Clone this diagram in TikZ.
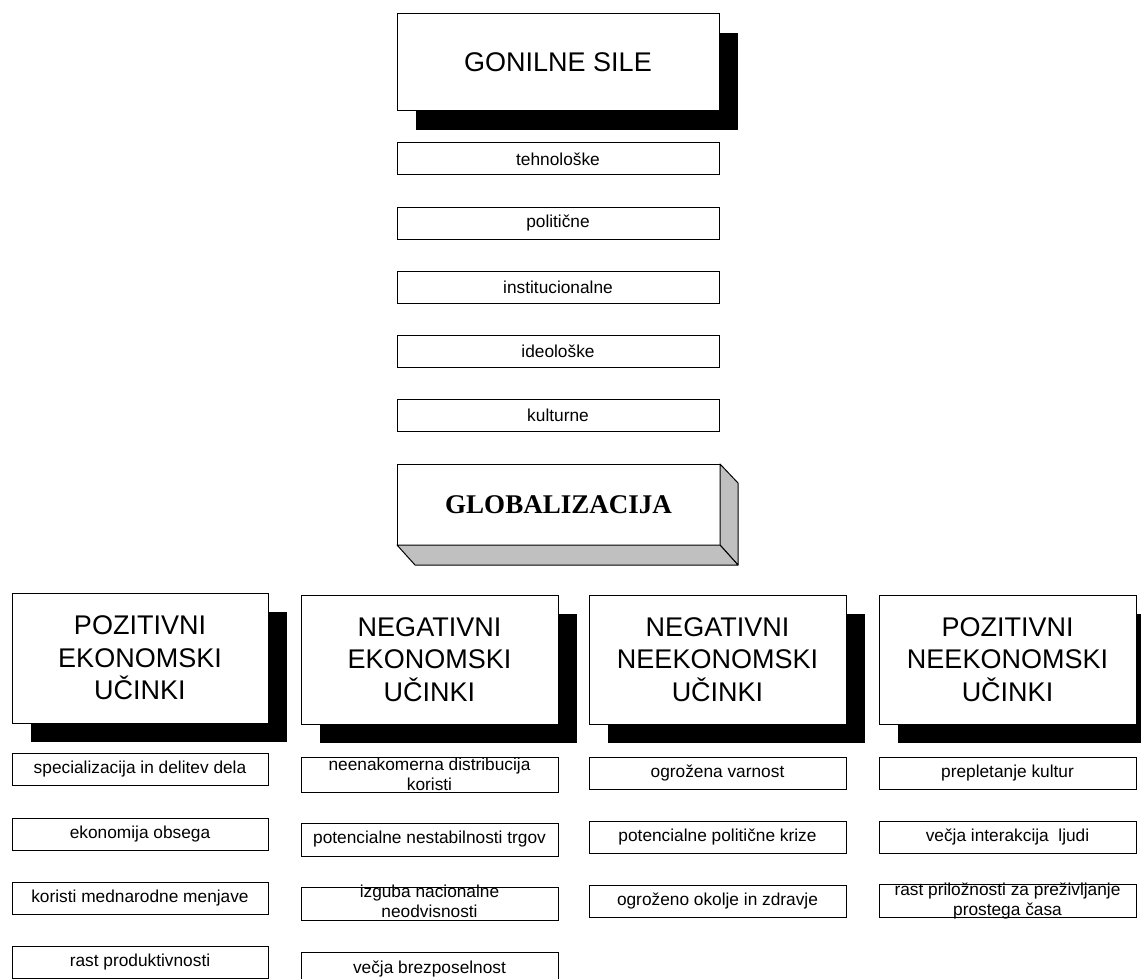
\documentclass[tikz,border=0pt]{standalone}
\usepackage{fontspec}
\setmainfont{Liberation Sans}
\newfontfamily\serifb{Liberation Serif}
\usetikzlibrary{shadows}
\definecolor{sidegray}{HTML}{C0C0C0}
\begin{document}
\begin{tikzpicture}[x=1pt,y=-1pt,
  bx/.style={draw=black, line width=1pt, fill=white, inner sep=0pt, outer sep=0pt, anchor=north west},
  shad/.style={drop shadow={shadow xshift=19pt, shadow yshift=-19pt, fill=black, opacity=1}},
  small/.style={bx, minimum height=32pt, font=\fontsize{17.3}{20}\selectfont},
  hdr/.style={bx, shad, font=\fontsize{27}{32.5}\selectfont, align=center},
  txt/.style={font=\fontsize{17.3}{20}\selectfont, align=center, inner sep=0pt},
  face/.style={fill=sidegray, draw=black, line width=1pt, line join=round},
]
\useasboundingbox (0,0) rectangle (1141,979);
\clip (0,0) rectangle (1141,979);

% top
\node[hdr, minimum width=322pt, minimum height=97pt] (gon) at (397,14) {GONILNE SILE};
\node[small, minimum width=322pt] (f1) at (397,143) {tehnološke};
\node[small, minimum width=322pt] (f2) at (397,207) {politične};
\node[small, minimum width=322pt] (f3) at (397,271) {institucionalne};
\node[small, minimum width=322pt] (f4) at (397,335) {ideološke};
\node[small, minimum width=322pt] (f5) at (397,399) {kulturne};

% 3D box
\node[bx, minimum width=323pt, minimum height=81pt, font=\serifb\bfseries\fontsize{27}{32}\selectfont] (glob) at (397,464) {GLOBALIZACIJA};
\filldraw[face] (glob.north east) -- ([shift={(18,19)}]glob.north east) -- ([shift={(18,20)}]glob.south east) -- (glob.south east) -- cycle;
\filldraw[face] (glob.south west) -- ([shift={(18,20)}]glob.south west) -- ([shift={(18,20)}]glob.south east) -- (glob.south east) -- cycle;

% headers
\node[hdr, minimum width=256pt, minimum height=130pt] (h1) at (12,593) {POZITIVNI\\EKONOMSKI\\UČINKI};
\node[hdr, minimum width=257pt, minimum height=129pt] (h2) at (301,595) {NEGATIVNI\\EKONOMSKI\\UČINKI};
\node[hdr, minimum width=257pt, minimum height=129pt] (h3) at (589,595) {NEGATIVNI\\NEEKONOMSKI\\UČINKI};
\node[hdr, minimum width=257pt, minimum height=129pt] (h4) at (879,595) {POZITIVNI\\NEEKONOMSKI\\UČINKI};

% column 1
\node[small, minimum width=256pt] (a1) at (12,753) {specializacija in delitev dela};
\node[small, minimum width=256pt] (a2) at (12,818) {ekonomija obsega};
\node[small, minimum width=256pt] (a3) at (12,882) {koristi mednarodne menjave};
\node[small, minimum width=256pt] (a4) at (12,946) {rast produktivnosti};

% column 2
\node[small, minimum width=257pt, minimum height=35pt] (b1) at (301,757) {};
\node[txt] (b1t) at (b1.center) {neenakomerna distribucija\\koristi};
\node[small, minimum width=257pt, minimum height=33pt] (b2) at (301,823) {potencialne nestabilnosti trgov};
\node[small, minimum width=257pt, minimum height=33pt] (b3) at (301,887) {};
\node[txt] (b3t) at ([yshift=2pt]b3.center) {izguba nacionalne\\neodvisnosti};
\node[small, minimum width=257pt, minimum height=33pt] (b4) at (301,952) {večja brezposelnost};

% column 3
\node[small, minimum width=257pt] (c1) at (589,757) {ogrožena varnost};
\node[small, minimum width=257pt] (c2) at (589,821) {potencialne politične krize};
\node[small, minimum width=257pt] (c3) at (589,885) {ogroženo okolje in zdravje};

% column 4
\node[small, minimum width=257pt] (d1) at (879,757) {prepletanje kultur};
\node[small, minimum width=257pt] (d2) at (879,821) {večja interakcija\ \ ljudi};
\node[small, minimum width=257pt, minimum height=33pt] (d3) at (879,884) {};
\node[txt] (d3t) at (d3.center) {rast priložnosti za preživljanje\\prostega časa};
\end{tikzpicture}
\end{document}
